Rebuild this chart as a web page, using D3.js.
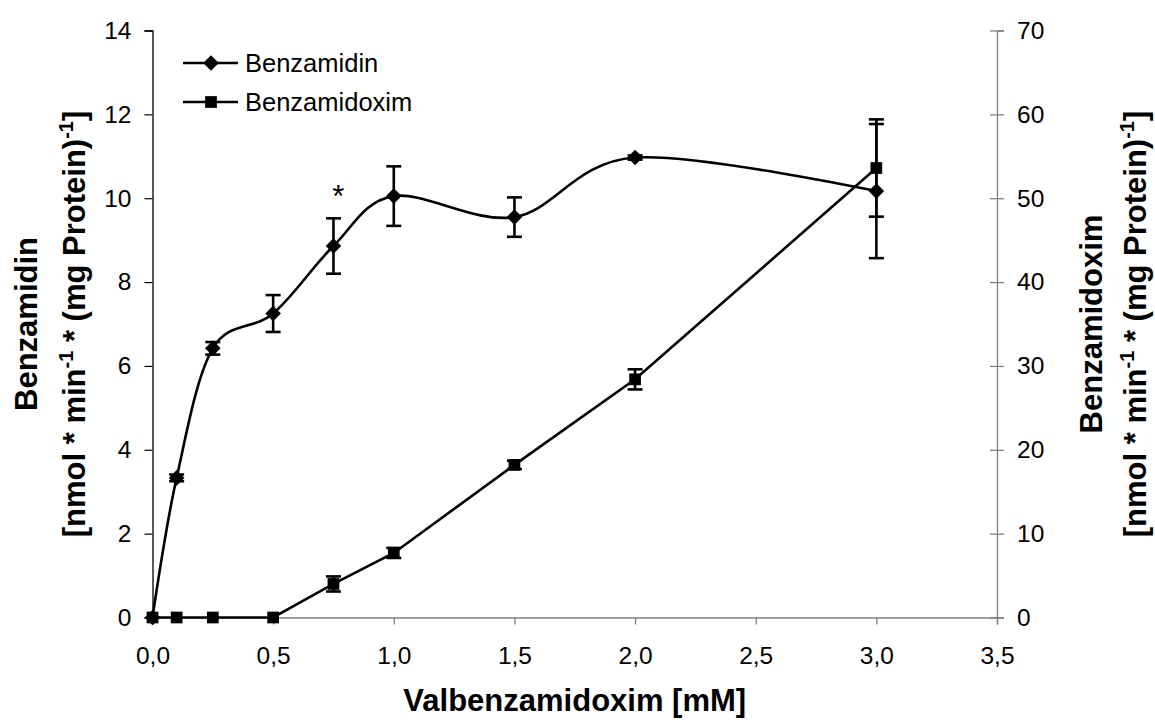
<!DOCTYPE html>
<html><head><meta charset="utf-8">
<script src="https://cdn.jsdelivr.net/npm/d3@7"></script>
<style>body{margin:0;background:#fff}svg{display:block}text{font-family:"Liberation Sans",Arial,sans-serif}</style>
</head><body><svg id="c" width="1155" height="722"></svg>
<script>
const concentrations = [0, 0.1, 0.25, 0.5, 0.75, 1.0, 1.5, 2.0, 3.0];
const benzamidin = [0, 3.33, 6.42, 7.25, 8.86, 10.05, 9.55, 10.97, 10.17];
const benzamidinErr = [0, 0.08, 0.15, 0.44, 0.66, 0.71, 0.47, 0.05, 1.6];
const benzamidoxim = [0, 0, 0, 0, 4.0, 7.7, 18.2, 28.4, 53.6];
const benzamidoximErr = [0, 0, 0, 0, 0.9, 0.6, 0.5, 1.2, 5.8];
const xTicks = [0, 0.5, 1.0, 1.5, 2.0, 2.5, 3.0, 3.5];
const yLeftTicks = [0, 2, 4, 6, 8, 10, 12, 14];
const yRightTicks = [0, 10, 20, 30, 40, 50, 60, 70];
const seriesNames = ["Benzamidin", "Benzamidoxim"];
const significance = [{x: 0.77, y: 10.2, label: "*"}];

const svg = d3.select("#c");
const x = d3.scaleLinear().domain([0, 3.5]).range([152.5, 997]);
const yL = d3.scaleLinear().domain([0, 14]).range([617.5, 30.5]);
const yR = d3.scaleLinear().domain([0, 70]).range([617.5, 30.5]);
const fmt = d => d3.format(".1f")(d).replace(".", ",");
const tickFont = 24.5, legFont = 25.5, titleFont = 31, supFont = 20;

// Bottom axis (grey)
const gx = svg.append("g").attr("transform", `translate(0,${yL(0)})`)
  .call(d3.axisBottom(x).tickValues(xTicks).tickFormat(fmt).tickSize(7).tickPadding(22));
gx.select(".domain").attr("stroke", "#808080").attr("stroke-width", 1.3);
gx.selectAll(".tick line").attr("stroke", "#808080").attr("stroke-width", 1.3);
gx.selectAll("text").attr("font-size", tickFont).attr("fill", "#000").attr("font-family", "Liberation Sans, Arial");

// Left axis (black)
const gl = svg.append("g").attr("transform", `translate(${x(0)},0)`)
  .call(d3.axisLeft(yL).tickValues(yLeftTicks).tickSize(8).tickPadding(13));
gl.select(".domain").attr("stroke", "#000").attr("stroke-width", 1.3);
gl.selectAll(".tick line").attr("stroke", "#000").attr("stroke-width", 1.2);
gl.selectAll("text").attr("font-size", tickFont).attr("fill", "#000").attr("font-family", "Liberation Sans, Arial");

// Right axis (grey, crossing ticks)
const gr = svg.append("g").attr("transform", `translate(${x(3.5)},0)`)
  .call(d3.axisRight(yR).tickValues(yRightTicks).tickSize(7).tickPadding(13));
gr.select(".domain").attr("stroke", "#808080").attr("stroke-width", 1.3);
gr.selectAll(".tick line").attr("stroke", "#808080").attr("stroke-width", 1.3).attr("x1", -7);
gr.selectAll("text").attr("font-size", tickFont).attr("fill", "#000").attr("font-family", "Liberation Sans, Arial");

const dataA = concentrations.map((c, i) => ({c, v: benzamidin[i], e: benzamidinErr[i]}));
const dataB = concentrations.map((c, i) => ({c, v: benzamidoxim[i], e: benzamidoximErr[i]}));

// Lines
svg.append("path").datum(dataA)
  .attr("d", d3.line().x(d => x(d.c)).y(d => yL(d.v)).curve(d3.curveCardinal.tension(0)))
  .attr("fill", "none").attr("stroke", "#000").attr("stroke-width", 2.6);
svg.append("path").datum(dataB)
  .attr("d", d3.line().x(d => x(d.c)).y(d => yR(d.v)))
  .attr("fill", "none").attr("stroke", "#000").attr("stroke-width", 2.6);

// Error bars
function errBars(data, y) {
  const g = svg.append("g").attr("stroke", "#000").attr("stroke-width", 2.6);
  data.filter(d => d.e > 0).forEach(d => {
    g.append("line").attr("x1", x(d.c)).attr("x2", x(d.c)).attr("y1", y(d.v - d.e)).attr("y2", y(d.v + d.e));
    [d.v - d.e, d.v + d.e].forEach(v => g.append("line")
      .attr("x1", x(d.c) - 7.5).attr("x2", x(d.c) + 7.5).attr("y1", y(v)).attr("y2", y(v)));
  });
}
errBars(dataA, yL);
errBars(dataB, yR);

// Markers
const diamond = d3.symbol().type(d3.symbolDiamond2).size(155);
const square = d3.symbol().type(d3.symbolSquare2).size(175);
svg.append("g").selectAll("path").data(dataB).join("path")
  .attr("d", square).attr("transform", d => `translate(${x(d.c)},${yR(d.v)})`).attr("fill", "#000");
svg.append("g").selectAll("path").data(dataA).join("path")
  .attr("d", diamond).attr("transform", d => `translate(${x(d.c)},${yL(d.v)})`).attr("fill", "#000");

// Significance
svg.selectAll(".sig").data(significance).join("text").attr("class", "sig")
  .attr("x", d => x(d.x)).attr("y", d => yL(d.y) + 17).attr("text-anchor", "middle")
  .attr("font-size", 31).text(d => d.label);

// Legend
const leg = svg.append("g");
[0, 1].forEach(i => {
  const yy = 63 + i * 39;
  leg.append("line").attr("x1", 183).attr("x2", 238).attr("y1", yy).attr("y2", yy).attr("stroke", "#000").attr("stroke-width", 2.6);
  leg.append("path").attr("d", i === 0 ? diamond : square).attr("transform", `translate(211,${yy})`);
  leg.append("text").attr("x", 245).attr("y", yy + 9).attr("font-size", legFont).text(seriesNames[i]);
});

// Titles
svg.append("text").attr("x", x(1.75)).attr("y", 711).attr("text-anchor", "middle")
  .attr("font-size", titleFont).attr("font-weight", "bold").text("Valbenzamidoxim [mM]");

function yTitle(cx1, cx2, cy, name) {
  svg.append("text").attr("transform", `translate(${cx1},${cy}) rotate(-90)`)
    .attr("text-anchor", "middle").attr("font-size", titleFont).attr("font-weight", "bold").text(name);
  const t2 = svg.append("text").attr("transform", `translate(${cx2},${cy}) rotate(-90)`)
    .attr("text-anchor", "middle").attr("font-size", titleFont).attr("font-weight", "bold");
  t2.append("tspan").text("[nmol * min");
  t2.append("tspan").attr("dy", -12).attr("font-size", supFont).text("-1");
  t2.append("tspan").attr("dy", 12).text(" * (mg Protein)");
  t2.append("tspan").attr("dy", -12).attr("font-size", supFont).text("-1");
  t2.append("tspan").attr("dy", 12).text("]");
}
yTitle(37, 85, 324, "Benzamidin");
yTitle(1102, 1146, 324, "Benzamidoxim");
</script></body></html>
